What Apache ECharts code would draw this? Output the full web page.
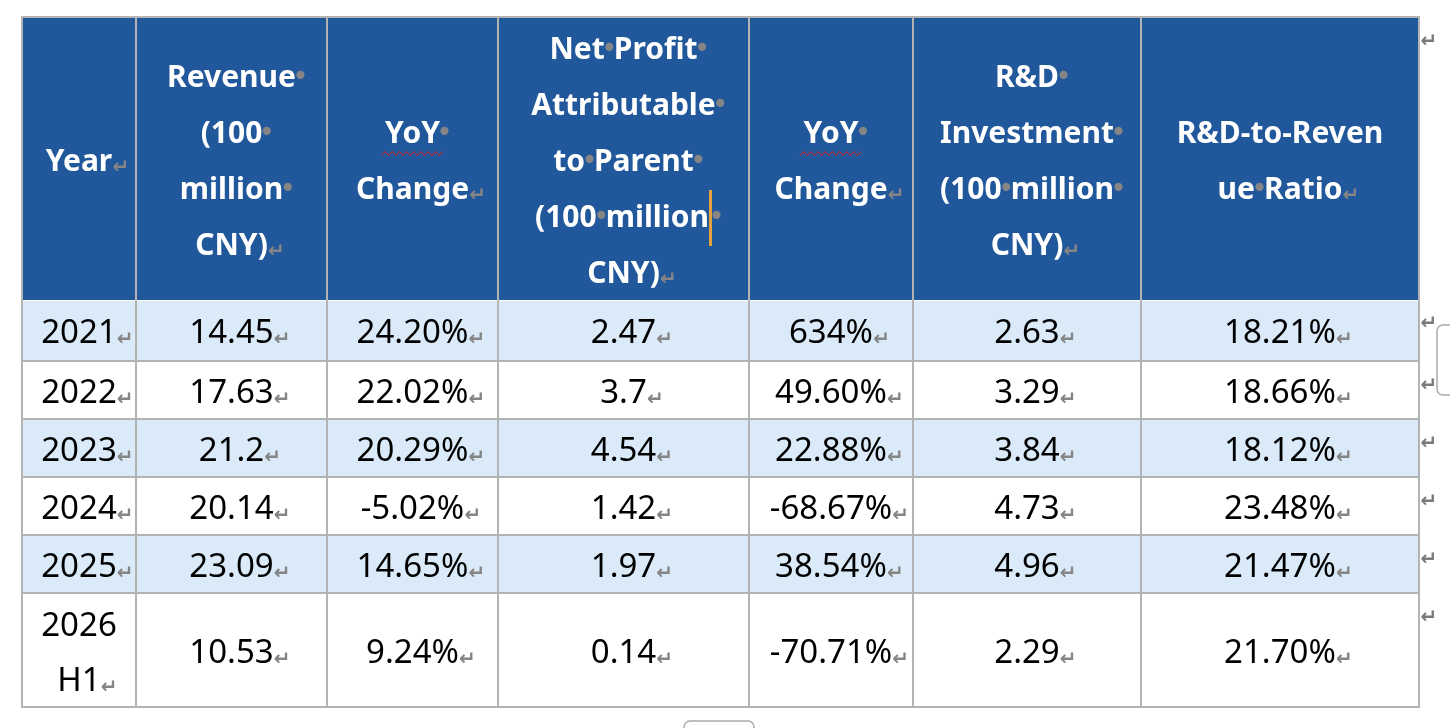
<!DOCTYPE html>
<html lang="en">
<head>
    <meta charset="UTF-8">
    <title>Financial summary 2021-2026H1</title>
    <style>
        * {
            margin: 0;
            padding: 0;
        }

        body {
            background: #fff;
        }

        .box {
            width: 1450px;
            height: 728px;
        }
    </style>
</head>
<body>
    <div class="box"></div>

    <script src="https://cdn.jsdelivr.net/npm/echarts@6/dist/echarts.min.js"></script>
    <script>
        // table content (line breaks where the header text wraps)
        var headers = ['Year', 'Revenue \n(100 \nmillion \nCNY)', 'YoY \nChange',
            'Net Profit \nAttributable \nto Parent \n(100 million \nCNY)', 'YoY \nChange',
            'R&D \nInvestment \n(100 million \nCNY)', 'R&D-to-Reven\nue Ratio'];
        var years = ['2021', '2022', '2023', '2024', '2025', '2026\nH1'];
        var revenue = [14.45, 17.63, 21.2, 20.14, 23.09, 10.53];
        var revenueYoY = ['24.20%', '22.02%', '20.29%', '-5.02%', '14.65%', '9.24%'];
        var netProfit = [2.47, 3.7, 4.54, 1.42, 1.97, 0.14];
        var netProfitYoY = ['634%', '49.60%', '22.88%', '-68.67%', '38.54%', '-70.71%'];
        var rdInvestment = [2.63, 3.29, 3.84, 4.73, 4.96, 2.29];
        var rdRatio = ['18.21%', '18.66%', '18.12%', '23.48%', '21.47%', '21.70%'];

        // layout
        var colWidths = [114, 191, 171, 251, 164, 228, 278];
        var rowHeights = [282, 62, 58, 58, 58, 58, 114];
        var caret = { col: 3, line: 3 };

        var HEAD_BLUE = '#21579B';
        var STRIPE = '#DAEAF9';
        var RULE = '#B3B3B3';
        var MARK = '#858585';

        function edges(sizes) {
            var e = [0];
            sizes.forEach(function (s, i) {
                e.push(e[i] + s);
            });
            return e;
        }
        var colEdges = edges(colWidths);
        var rowEdges = edges(rowHeights);
        var totalW = colEdges[colEdges.length - 1];
        var totalH = rowEdges[rowEdges.length - 1];

        var columns = [
            years,
            revenue.map(String),
            revenueYoY,
            netProfit.map(String),
            netProfitYoY,
            rdInvestment.map(String),
            rdRatio
        ];

        // zrender rich styles (fill, not color)
        var rich = {
            h: { fill: '#fff', fontSize: 30, fontWeight: 'bold', fontFamily: 'Noto Sans', lineHeight: 56, align: 'center' },
            hd: { fill: MARK, fontSize: 28, fontFamily: 'DejaVu Sans', width: 9, lineHeight: 56, align: 'center' },
            hpd: { width: 9, lineHeight: 56, align: 'center' },
            hm: { fill: MARK, fontSize: 20, fontWeight: 'bold', fontFamily: 'DejaVu Sans', width: 17, lineHeight: 44, padding: [12, 0, 0, 0], align: 'center' },
            hpm: { width: 17, lineHeight: 56, align: 'center' },
            cur: { width: 3, height: 56, backgroundColor: '#E3A33A', align: 'center' },
            b: { fill: '#000', fontSize: 33, fontFamily: 'Noto Sans', lineHeight: 55, align: 'center' },
            bm: { fill: MARK, fontSize: 20, fontWeight: 'bold', fontFamily: 'DejaVu Sans', width: 17, lineHeight: 43, padding: [12, 0, 0, 0], align: 'center' },
            bpm: { width: 17, lineHeight: 55, align: 'center' }
        };

        // turn a cell's text into rich text with Word's formatting marks
        function markup(text, kind, caretLine) {
            var lines = text.split('\n');
            return lines.map(function (line, i) {
                var last = i === lines.length - 1;
                var trailing = / $/.test(line);
                var words = (trailing ? line.slice(0, -1) : line).split(' ');
                var s = words.map(function (w) {
                    return '{' + kind + '|' + w + '}';
                }).join('{' + kind + 'd|•}');
                if (caretLine === i) s += '{cur| }';
                if (last) return '{' + kind + 'pm| }' + s + '{' + kind + 'm|↵}';
                if (trailing) return '{' + kind + 'pd| }' + s + '{' + kind + 'd|•}';
                return s;
            }).join('\n');
        }

        var cells = [];
        for (var r = 0; r < rowHeights.length; r++) {
            for (var c = 0; c < colWidths.length; c++) {
                cells.push([c, r]);
            }
        }

        function renderCell(params, api) {
            var c = api.value(0);
            var r = api.value(1);
            var p0 = api.coord([colEdges[c], rowEdges[r]]);
            var p1 = api.coord([colEdges[c + 1], rowEdges[r + 1]]);
            var cx = (p0[0] + p1[0]) / 2;
            var cy = (p0[1] + p1[1]) / 2;
            var head = r === 0;
            var text = head ? markup(headers[c], 'h', c === caret.col ? caret.line : -1)
                : markup(columns[c][r - 1], 'b', -1);
            var children = [{
                type: 'rect',
                shape: { x: p0[0], y: p0[1], width: p1[0] - p0[0], height: p1[1] - p0[1] },
                style: { fill: head ? HEAD_BLUE : (r % 2 === 1 ? STRIPE : '#fff') }
            }, {
                type: 'text',
                style: {
                    x: cx, y: cy + 4, text: text, rich: rich,
                    align: 'center', verticalAlign: 'middle'
                }
            }];
            // spell-check squiggle under "YoY"
            if (head && /^YoY/.test(headers[c])) {
                var pts = [];
                for (var k = 0; k <= 17; k++) {
                    pts.push([cx - 31 + k * 3.6, cy - 4.5 + (k % 2 ? -2 : 2)]);
                }
                children.push({
                    type: 'polyline',
                    shape: { points: pts },
                    style: { stroke: '#E0231E', lineWidth: 1, fill: null }
                });
            }
            return { type: 'group', children: children };
        }

        function renderRules(params, api) {
            var tl = api.coord([0, 0]);
            var br = api.coord([totalW, totalH]);
            var children = [];
            rowEdges.forEach(function (e, i) {
                if (i === 1) return;
                var y = api.coord([0, e])[1];
                children.push({
                    type: 'line',
                    shape: { x1: tl[0] - 1, y1: y, x2: br[0] + 1, y2: y },
                    style: { stroke: RULE, lineWidth: 2 }
                });
            });
            // double rule under the header
            var hy = api.coord([0, rowEdges[1]])[1];
            children.push({
                type: 'rect',
                shape: { x: tl[0], y: hy - 1, width: br[0] - tl[0], height: 2 },
                style: { fill: HEAD_BLUE }
            }, {
                type: 'rect',
                shape: { x: tl[0], y: hy + 1, width: br[0] - tl[0], height: 1 },
                style: { fill: '#fff' }
            });
            colEdges.forEach(function (e) {
                var x = api.coord([e, 0])[0];
                children.push({
                    type: 'line',
                    shape: { x1: x, y1: tl[1] - 1, x2: x, y2: br[1] + 1 },
                    style: { stroke: RULE, lineWidth: 2 }
                });
            });
            return { type: 'group', children: children };
        }

        function renderRowMark(params, api) {
            var p = api.coord([totalW, rowEdges[api.value(0)]]);
            return {
                type: 'text',
                style: {
                    x: p[0] + 10, y: p[1] + 25, text: '↵',
                    fill: '#7A7A7A', fontSize: 20, fontWeight: 'bold', fontFamily: 'DejaVu Sans',
                    align: 'center', verticalAlign: 'middle'
                }
            };
        }

        var myChart = echarts.init(document.querySelector('.box'));
        var option = {
            animation: false,
            grid: { left: 22, top: 17, width: totalW, height: totalH },
            xAxis: { type: 'value', min: 0, max: totalW, show: false },
            yAxis: { type: 'value', min: 0, max: totalH, inverse: true, show: false },
            graphic: [{
                type: 'rect',
                shape: { x: 1437, y: 325, width: 30, height: 70, r: 6 },
                style: { fill: '#fff', stroke: '#ABABAB', lineWidth: 1.5 }
            }, {
                type: 'rect',
                shape: { x: 684, y: 721, width: 70, height: 20, r: 6 },
                style: { fill: '#fff', stroke: '#ABABAB', lineWidth: 1.5 }
            }],
            series: [{
                type: 'custom',
                silent: true,
                renderItem: renderCell,
                data: cells,
                z: 1
            }, {
                type: 'custom',
                silent: true,
                renderItem: renderRules,
                data: [[0, 0]],
                z: 2
            }, {
                type: 'custom',
                silent: true,
                renderItem: renderRowMark,
                data: rowHeights.map(function (h, i) { return [i, 0]; }),
                z: 2
            }]
        };
        myChart.setOption(option);
    </script>
</body>
</html>
